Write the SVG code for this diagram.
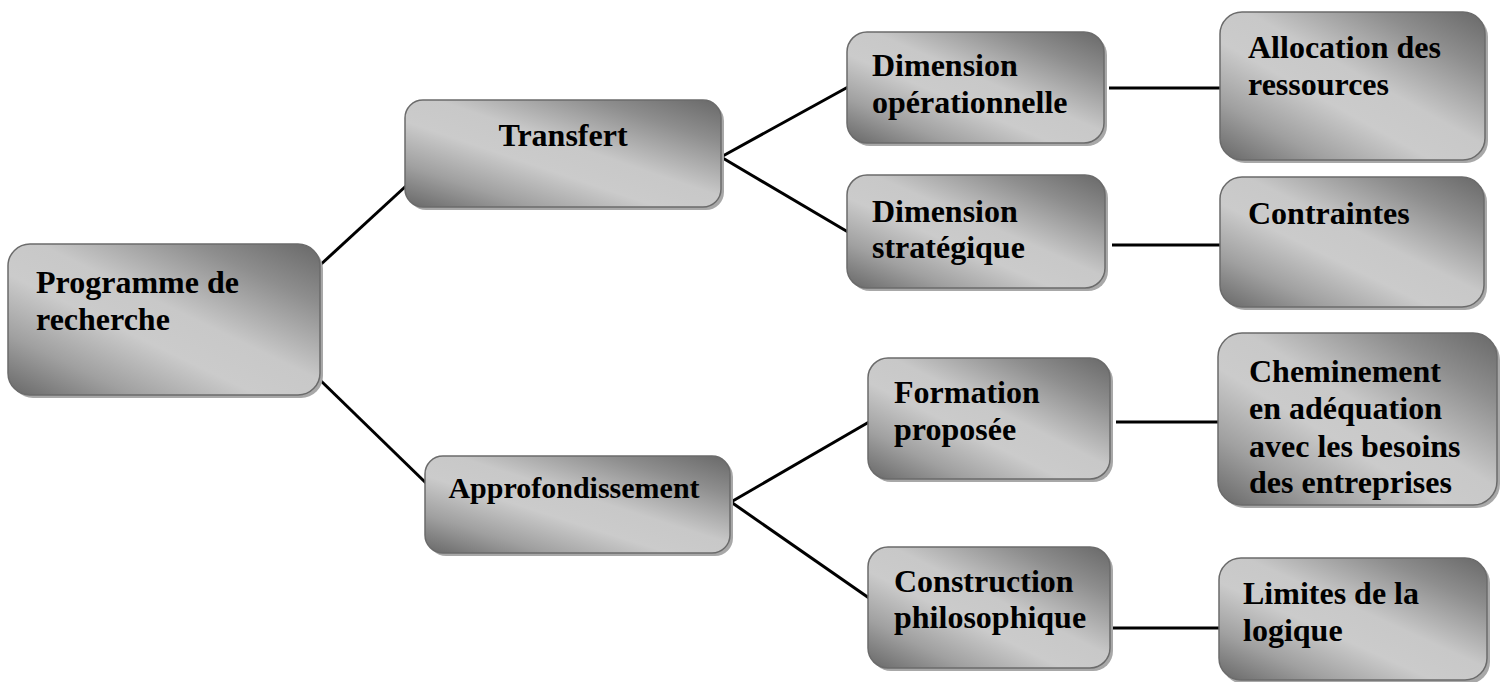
<svg xmlns="http://www.w3.org/2000/svg" width="1500" height="682" viewBox="0 0 1500 682">
<defs>
<linearGradient id="g" x1="1" y1="0" x2="0" y2="1">
<stop offset="0" stop-color="#686868"/>
<stop offset="0.2" stop-color="#8e8e8e"/>
<stop offset="0.45" stop-color="#c8c8c8"/>
<stop offset="0.6" stop-color="#cbcbcb"/>
<stop offset="0.8" stop-color="#a0a0a0"/>
<stop offset="1" stop-color="#676767"/>
</linearGradient>
</defs>
<style>
.sh{fill:#a8a8a8}
.bx{fill:url(#g);stroke:#6b6b6b;stroke-width:1.5}
.t{font-family:"Liberation Serif","Times New Roman",serif;font-weight:bold;font-size:32px;fill:#000}
.c{stroke:#000;stroke-width:3;fill:none}
</style>
<rect width="1500" height="682" fill="#fff"/>
<g id="connectors">
<line class="c" x1="318" y1="267" x2="406" y2="186"/>
<line class="c" x1="318" y1="378" x2="427" y2="484"/>
<line class="c" x1="721" y1="157" x2="848" y2="87"/>
<line class="c" x1="721" y1="157" x2="848" y2="232"/>
<line class="c" x1="731" y1="502" x2="869" y2="422"/>
<line class="c" x1="731" y1="502" x2="869" y2="598"/>
<line class="c" x1="1109" y1="88" x2="1221" y2="88"/>
<line class="c" x1="1112" y1="245" x2="1221" y2="245"/>
<line class="c" x1="1116" y1="422" x2="1219" y2="422"/>
<line class="c" x1="1113" y1="628" x2="1220" y2="628"/>
</g>
<g id="programme">
<rect class="sh" x="11" y="247" width="312" height="151" rx="22"/>
<rect class="bx" x="8" y="244" width="312" height="151" rx="22"/>
<text class="t" x="36" y="293">Programme de</text>
<text class="t" x="36" y="330">recherche</text>
</g>
<g id="transfert">
<rect class="sh" x="408" y="103" width="316" height="107" rx="18"/>
<rect class="bx" x="405" y="100" width="316" height="107" rx="18"/>
<text class="t" x="563" y="146" text-anchor="middle">Transfert</text>
</g>
<g id="approfondissement">
<rect class="sh" x="428" y="459" width="305" height="97" rx="18"/>
<rect class="bx" x="425" y="456" width="305" height="97" rx="18"/>
<text class="t" x="574" y="498" text-anchor="middle" style="font-size:30px">Approfondissement</text>
</g>
<g id="dim-operationnelle">
<rect class="sh" x="850" y="35" width="257" height="111" rx="20"/>
<rect class="bx" x="847" y="32" width="257" height="111" rx="20"/>
<text class="t" x="872" y="76">Dimension</text>
<text class="t" x="872" y="113">opérationnelle</text>
</g>
<g id="dim-strategique">
<rect class="sh" x="850" y="178" width="258" height="113" rx="20"/>
<rect class="bx" x="847" y="175" width="258" height="113" rx="20"/>
<text class="t" x="872" y="222">Dimension</text>
<text class="t" x="872" y="258">stratégique</text>
</g>
<g id="allocation">
<rect class="sh" x="1223" y="15" width="265" height="148" rx="22"/>
<rect class="bx" x="1220" y="12" width="265" height="148" rx="22"/>
<text class="t" x="1248" y="58">Allocation des</text>
<text class="t" x="1248" y="95">ressources</text>
</g>
<g id="contraintes">
<rect class="sh" x="1223" y="180" width="264" height="130" rx="22"/>
<rect class="bx" x="1220" y="177" width="264" height="130" rx="22"/>
<text class="t" x="1248" y="224">Contraintes</text>
</g>
<g id="formation">
<rect class="sh" x="871" y="361" width="242" height="121" rx="20"/>
<rect class="bx" x="868" y="358" width="242" height="121" rx="20"/>
<text class="t" x="894" y="403">Formation</text>
<text class="t" x="894" y="440">proposée</text>
</g>
<g id="cheminement">
<rect class="sh" x="1221" y="336" width="279" height="172" rx="24"/>
<rect class="bx" x="1218" y="333" width="279" height="172" rx="24"/>
<text class="t" x="1249" y="382">Cheminement</text>
<text class="t" x="1249" y="419">en adéquation</text>
<text class="t" x="1249" y="457">avec les besoins</text>
<text class="t" x="1249" y="493">des entreprises</text>
</g>
<g id="construction">
<rect class="sh" x="871" y="550" width="242" height="121" rx="20"/>
<rect class="bx" x="868" y="547" width="242" height="121" rx="20"/>
<text class="t" x="894" y="592">Construction</text>
<text class="t" x="894" y="628">philosophique</text>
</g>
<g id="limites">
<rect class="sh" x="1222" y="561" width="268" height="123" rx="22"/>
<rect class="bx" x="1219" y="558" width="268" height="122" rx="22"/>
<text class="t" x="1243" y="604">Limites de la</text>
<text class="t" x="1243" y="641">logique</text>
</g>
</svg>
